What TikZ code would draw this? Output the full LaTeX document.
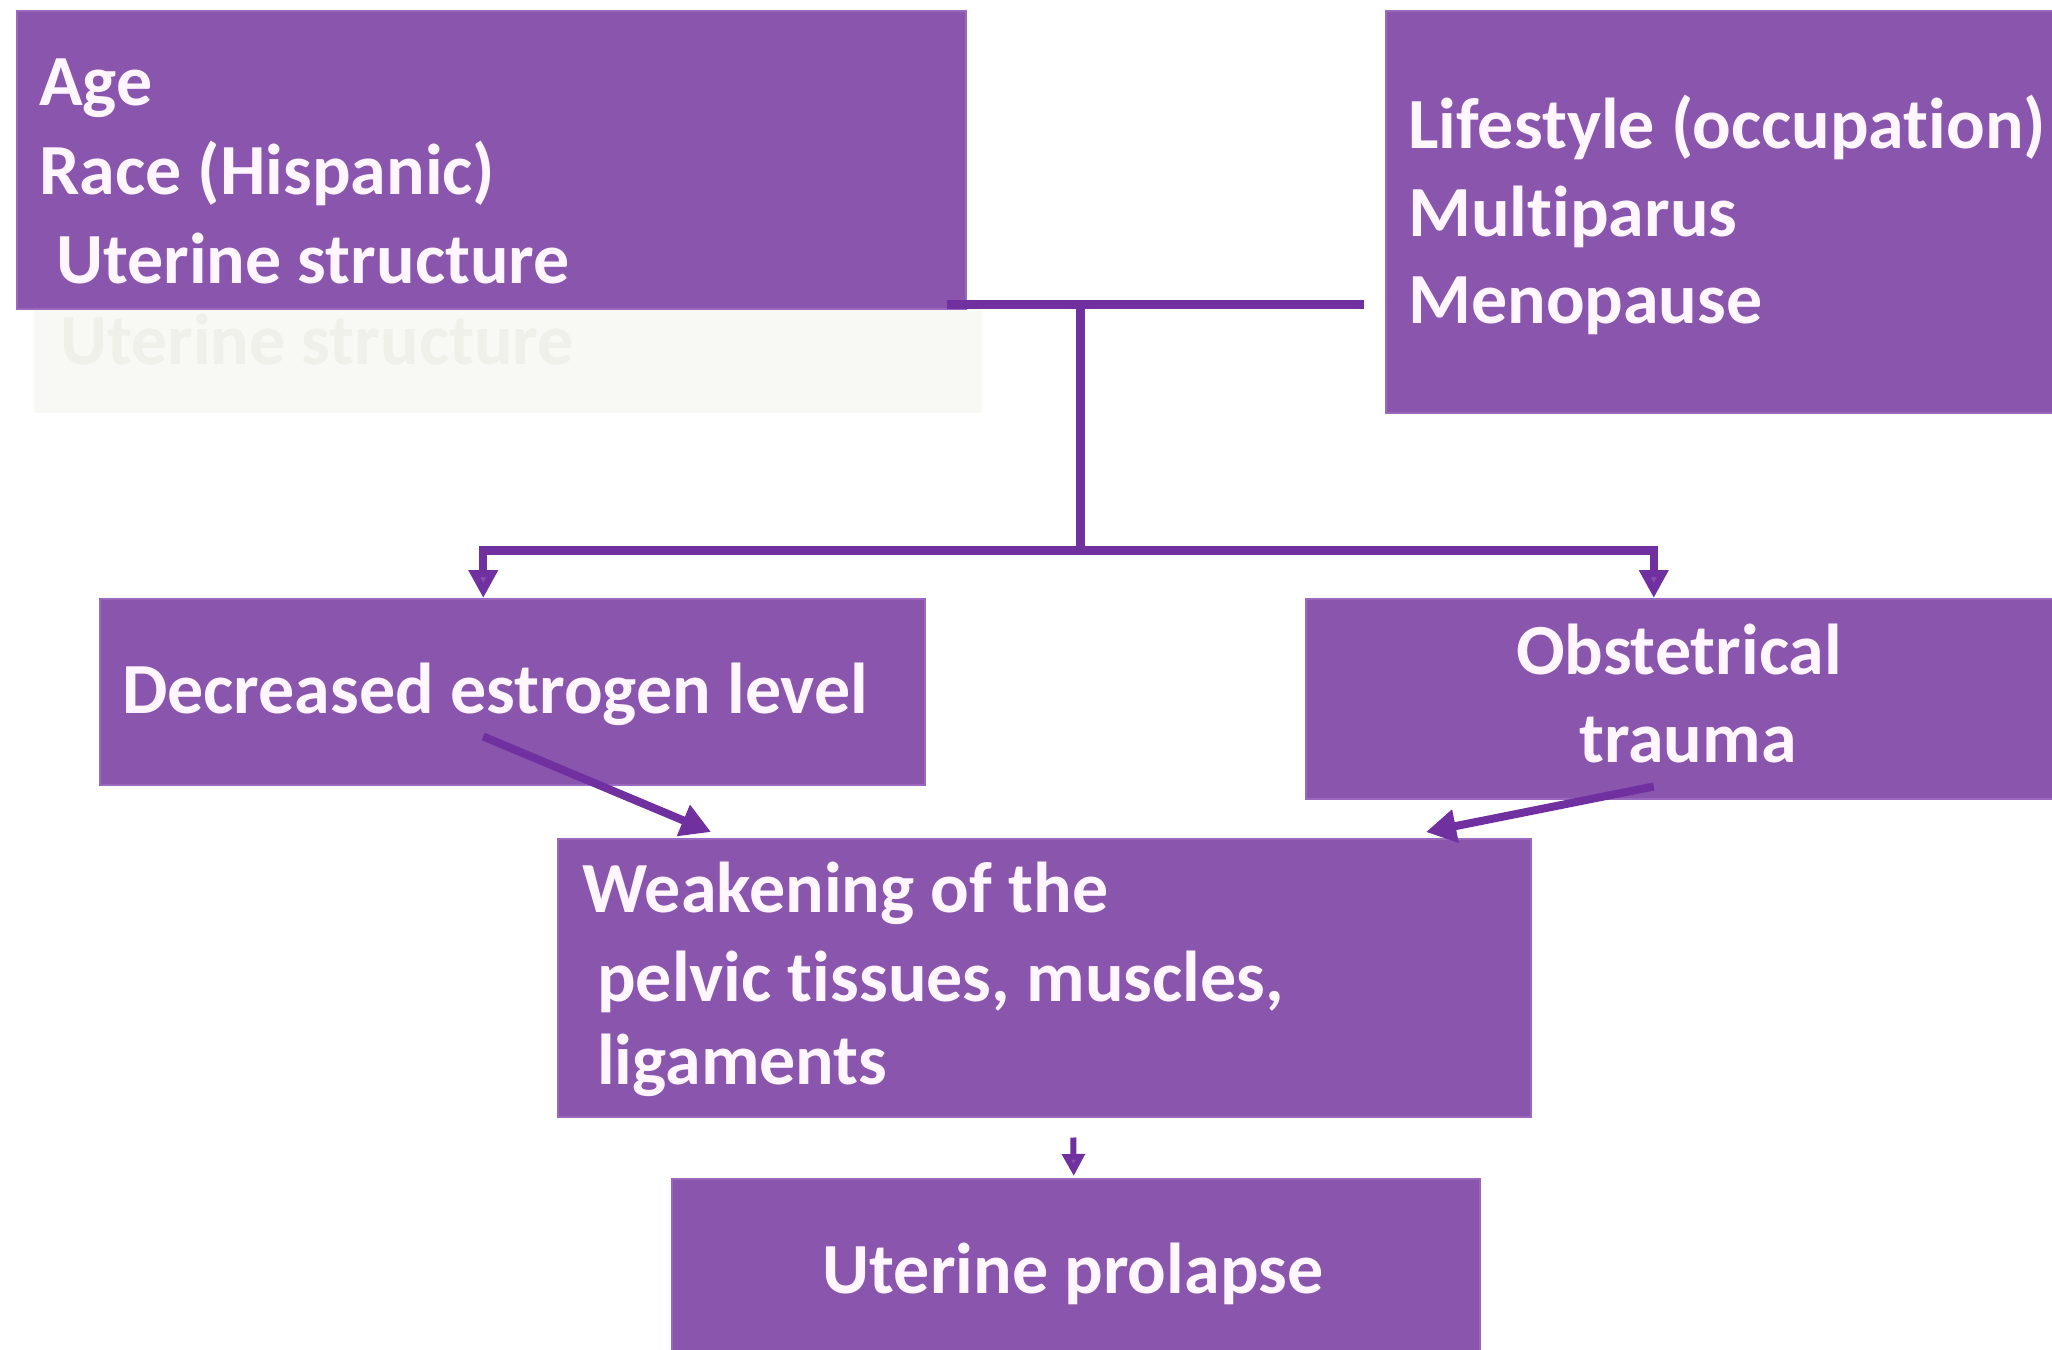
\documentclass[tikz,border=0pt]{standalone}
\usepackage{fontspec}
\setmainfont{Carlito}[Ligatures={NoCommon,NoRare,NoContextual}]
\usetikzlibrary{arrows.meta,calc}
\definecolor{boxfill}{HTML}{8A55AC}
\definecolor{boxedge}{HTML}{9A68BC}
\definecolor{linecol}{HTML}{7030A0}
\definecolor{tipcol}{HTML}{8450AA}
\definecolor{txtcol}{HTML}{FFF6FF}
\definecolor{ghostfill}{HTML}{F8F8F4}
\definecolor{ghosttxt}{HTML}{F0F0EA}
\newcommand{\nl}{\kern0pt\relax}
\tikzset{
  box/.style={draw=boxedge, line width=1.5pt, fill=boxfill, inner sep=0pt, anchor=north west, rectangle},
  txt/.style={text=txtcol, inner sep=0pt, anchor=base west, font=\fontsize{72}{88}\selectfont\bfseries},
  ctxt/.style={txt, anchor=base},
  conn/.style={draw=linecol, line width=9pt},
  arr/.style={draw=linecol, line width=8pt, -{Triangle[length=30pt,width=32pt]}},
  darr/.style={draw=linecol, line width=8pt, -{Triangle[length=28pt,width=28pt,fill=tipcol]}},
}
\begin{document}
\begin{tikzpicture}[x=1pt,y=-1pt]
\useasboundingbox (0,0) rectangle (2052,1349);
\fill[white] (0,0) rectangle (2052,1349);
% ghost box
\node[box, draw=none, fill=ghostfill, minimum width=948pt, minimum height=104pt] (ghost) at (33,308) {};
\node[txt, text=ghosttxt] (ghostt) at (60,364) {Uterine structure};
% boxes
\node[box, minimum width=949pt, minimum height=298pt] (b1) at (16,10) {};
\node[box, minimum width=680pt, minimum height=402pt] (b2) at (1385,10) {};
\node[box, minimum width=825pt, minimum height=186pt] (b3) at (99,598) {};
\node[box, minimum width=760pt, minimum height=200pt] (b4) at (1305,598) {};
\node[box, minimum width=973pt, minimum height=278pt] (b5) at (557,838) {};
\node[box, minimum width=808pt, minimum height=190pt] (b6) at (671,1178) {};
% texts
\node[txt] (t1a) at (39,105) {Age};
\node[txt] (t1b) at (39,194) {Race (Hispanic)};
\node[txt] (t1c) at (56,283) {Uterine structure};
\node[txt] (t2a) at (1408,148) {Lifestyle (occupat\nl ion)};
\node[txt] (t2b) at (1408,236) {Mult\nl iparus};
\node[txt] (t2c) at (1408,323) {Menopause};
\node[txt] (t3) at (122,713) {Decreased estrogen level};
\node[ctxt] (t4a) at (1679,674) {Obstetrical};
\node[ctxt] (t4b) at (1688,762) {trauma};
\node[txt] (t5a) at (582,912) {Weakening of the};
\node[txt] (t5b) at (597,1001) {pelvic t\nl issues, muscles,};
\node[txt] (t5c) at (597,1084) {ligaments};
\node[ctxt] (t6) at (1073,1293) {Uterine prolapse};
% connectors
\coordinate (j1) at (1080,304);
\coordinate (j2) at (1080,550);
\draw[conn] ($(b1.east |- j1)+(-20,0)$) -- ($(b2.west |- j1)+(-21,0)$);
\draw[conn] (j1) -- (j2);
\draw[conn, line cap=butt] ($(b3.north)+(-29,-48)$) -- ($(b4.north)+(-32,-48)$);
\draw[darr] ($(b3.north)+(-29,-52)$) -- ($(b3.north)+(-29,0)$);
\draw[darr] ($(b4.north)+(-32,-52)$) -- ($(b4.north)+(-32,0)$);
\draw[arr] ($(b3.south)+(-29,-49)$) -- ($(b5.north west)+(154,-6)$);
\draw[arr] ($(b4.south)+(-32,-13)$) -- ($(b5.north west)+(869,-6)$);
\draw[darr, line width=6pt, -{Triangle[length=22pt,width=22pt,fill=tipcol]}] ($(b5.south)+(29,20)$) -- ($(b6.north)+(-2,-2)$);
\end{tikzpicture}
\end{document}
